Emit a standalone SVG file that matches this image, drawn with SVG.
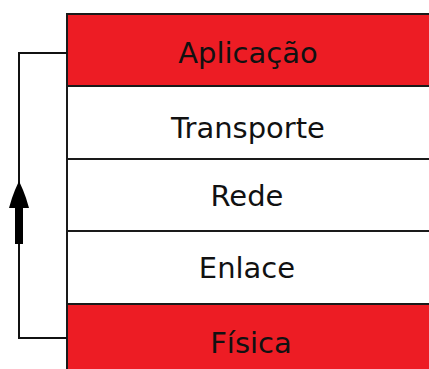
<svg xmlns="http://www.w3.org/2000/svg" width="429" height="369" viewBox="0 0 429 369">
<style>
.red{fill:#ED1C24;stroke:#1a1a1a;stroke-width:2}
.white{fill:#ffffff;stroke:#1a1a1a;stroke-width:2}
.lbl{font-family:"DejaVu Sans",sans-serif;font-size:29px;fill:#111;text-anchor:middle}
.conn{fill:none;stroke:#111;stroke-width:2}
</style>
<rect width="429" height="369" fill="#fff"/>
<g id="aplicacao"><rect class="red" x="67" y="14" width="372" height="72"/><text class="lbl" x="248" y="63">Aplicação</text></g>
<g id="transporte"><rect class="white" x="67" y="86" width="372" height="73"/><text class="lbl" x="248" y="138">Transporte</text></g>
<g id="rede"><rect class="white" x="67" y="159" width="372" height="72"/><text class="lbl" x="247" y="206">Rede</text></g>
<g id="enlace"><rect class="white" x="67" y="231" width="372" height="73"/><text class="lbl" x="247" y="278">Enlace</text></g>
<g id="fisica"><rect class="red" x="67" y="304" width="372" height="80"/><text class="lbl" x="251" y="353">Física</text></g>
<g id="connectors">
<polyline class="conn" points="67,338 19,338 19,53 67,53"/>
<polygon fill="#000" points="19,181 23,190 26,198 29,208 23,208 23,244 15,244 15,208 9,208 12,198 15,190"/>
</g>
</svg>
